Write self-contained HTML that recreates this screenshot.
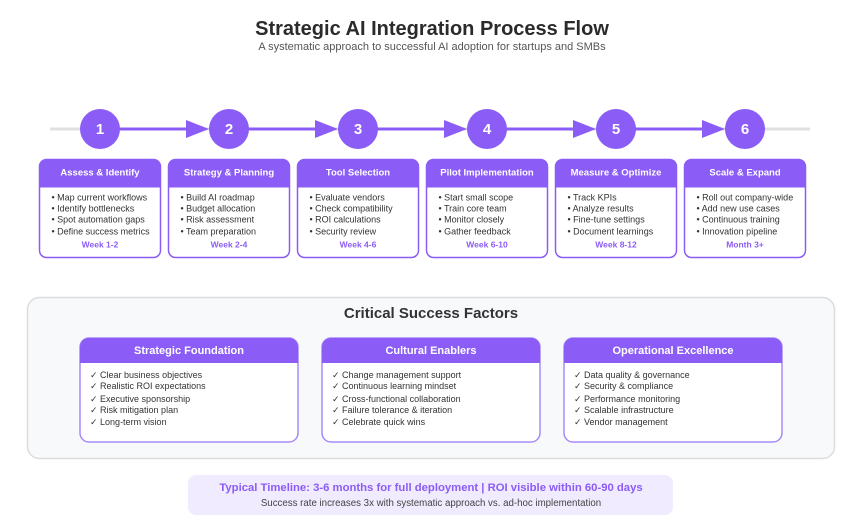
<!DOCTYPE html>
<html><head><meta charset="utf-8"><style>
html,body{margin:0;padding:0;background:#fff;}
svg{display:block;font-family:"Liberation Sans",Arial,sans-serif;}
</style></head><body>
<svg width="866" height="525" viewBox="0 0 866 525" xmlns="http://www.w3.org/2000/svg">
<rect width="866" height="525" fill="#fff"/>
<text x="432" y="35" text-anchor="middle" font-size="20" font-weight="bold" fill="#2b2b2b">Strategic AI Integration Process Flow</text>
<text x="432" y="50" text-anchor="middle" font-size="11" fill="#555">A systematic approach to successful AI adoption for startups and SMBs</text>

<line x1="50" y1="129" x2="810" y2="129" stroke="#e0e0e0" stroke-width="3"/>
<g stroke="#8b5cf6" stroke-width="3">
<line x1="100" y1="129" x2="190" y2="129"/>
<line x1="229" y1="129" x2="319" y2="129"/>
<line x1="358" y1="129" x2="448" y2="129"/>
<line x1="487" y1="129" x2="577" y2="129"/>
<line x1="616" y1="129" x2="706" y2="129"/>
</g>
<g fill="#8b5cf6">
<polygon points="186,120 209,129 186,138"/>
<polygon points="315,120 338,129 315,138"/>
<polygon points="444,120 467,129 444,138"/>
<polygon points="573,120 596,129 573,138"/>
<polygon points="702,120 725,129 702,138"/>
<circle cx="100" cy="129" r="20"/><circle cx="229" cy="129" r="20"/><circle cx="358" cy="129" r="20"/>
<circle cx="487" cy="129" r="20"/><circle cx="616" cy="129" r="20"/><circle cx="745" cy="129" r="20"/>
</g>
<g fill="#fff" font-size="15" font-weight="bold" text-anchor="middle">
<text x="100" y="134">1</text><text x="229" y="134">2</text><text x="358" y="134">3</text>
<text x="487" y="134">4</text><text x="616" y="134">5</text><text x="745" y="134">6</text>
</g>

<defs>
<g id="card">
<rect x="0" y="0" width="121" height="98" rx="7" fill="#fff" stroke="#8b5cf6" stroke-width="1.5"/>
<path d="M0,7 a7,7 0 0 1 7,-7 h107 a7,7 0 0 1 7,7 v21 h-121 z" fill="#8b5cf6"/>
</g>
</defs>

<g font-size="9" fill="#333">
<g transform="translate(39.5,159.5)"><use href="#card"/>
<text x="60.5" y="16" text-anchor="middle" fill="#fff" font-weight="bold" font-size="9.5">Assess &amp; Identify</text>
<text x="12" y="41">• Map current workflows</text><text x="12" y="52">• Identify bottlenecks</text>
<text x="12" y="63">• Spot automation gaps</text><text x="12" y="75">• Define success metrics</text>
<text x="60.5" y="88" text-anchor="middle" fill="#8b5cf6" font-weight="bold" font-size="8.5">Week 1-2</text></g>
<g transform="translate(168.5,159.5)"><use href="#card"/>
<text x="60.5" y="16" text-anchor="middle" fill="#fff" font-weight="bold" font-size="9.5">Strategy &amp; Planning</text>
<text x="12" y="41">• Build AI roadmap</text><text x="12" y="52">• Budget allocation</text>
<text x="12" y="63">• Risk assessment</text><text x="12" y="75">• Team preparation</text>
<text x="60.5" y="88" text-anchor="middle" fill="#8b5cf6" font-weight="bold" font-size="8.5">Week 2-4</text></g>
<g transform="translate(297.5,159.5)"><use href="#card"/>
<text x="60.5" y="16" text-anchor="middle" fill="#fff" font-weight="bold" font-size="9.5">Tool Selection</text>
<text x="12" y="41">• Evaluate vendors</text><text x="12" y="52">• Check compatibility</text>
<text x="12" y="63">• ROI calculations</text><text x="12" y="75">• Security review</text>
<text x="60.5" y="88" text-anchor="middle" fill="#8b5cf6" font-weight="bold" font-size="8.5">Week 4-6</text></g>
<g transform="translate(426.5,159.5)"><use href="#card"/>
<text x="60.5" y="16" text-anchor="middle" fill="#fff" font-weight="bold" font-size="9.5">Pilot Implementation</text>
<text x="12" y="41">• Start small scope</text><text x="12" y="52">• Train core team</text>
<text x="12" y="63">• Monitor closely</text><text x="12" y="75">• Gather feedback</text>
<text x="60.5" y="88" text-anchor="middle" fill="#8b5cf6" font-weight="bold" font-size="8.5">Week 6-10</text></g>
<g transform="translate(555.5,159.5)"><use href="#card"/>
<text x="60.5" y="16" text-anchor="middle" fill="#fff" font-weight="bold" font-size="9.5">Measure &amp; Optimize</text>
<text x="12" y="41">• Track KPIs</text><text x="12" y="52">• Analyze results</text>
<text x="12" y="63">• Fine-tune settings</text><text x="12" y="75">• Document learnings</text>
<text x="60.5" y="88" text-anchor="middle" fill="#8b5cf6" font-weight="bold" font-size="8.5">Week 8-12</text></g>
<g transform="translate(684.5,159.5)"><use href="#card"/>
<text x="60.5" y="16" text-anchor="middle" fill="#fff" font-weight="bold" font-size="9.5">Scale &amp; Expand</text>
<text x="12" y="41">• Roll out company-wide</text><text x="12" y="52">• Add new use cases</text>
<text x="12" y="63">• Continuous training</text><text x="12" y="75">• Innovation pipeline</text>
<text x="60.5" y="88" text-anchor="middle" fill="#8b5cf6" font-weight="bold" font-size="8.5">Month 3+</text></g>
</g>

<rect x="27.5" y="297.5" width="807" height="161" rx="12" fill="#f8f9fa" stroke="#dddddd" stroke-width="1.5"/>
<text x="431" y="318" text-anchor="middle" font-size="15" font-weight="bold" fill="#333">Critical Success Factors</text>

<defs>
<g id="bcard">
<rect x="0" y="0" width="218" height="104" rx="9" fill="#fff" stroke="#a78bfa" stroke-width="1.5"/>
<path d="M0,9 a9,9 0 0 1 9,-9 h200 a9,9 0 0 1 9,9 v16 h-218 z" fill="#8b5cf6"/>
</g>
</defs>
<g font-size="9" fill="#333">
<g transform="translate(80,338)"><use href="#bcard"/>
<text x="109" y="16" text-anchor="middle" fill="#fff" font-weight="bold" font-size="11">Strategic Foundation</text>
<text x="10" y="40">✓ Clear business objectives</text><text x="10" y="51">✓ Realistic ROI expectations</text>
<text x="10" y="64">✓ Executive sponsorship</text><text x="10" y="75">✓ Risk mitigation plan</text>
<text x="10" y="87">✓ Long-term vision</text></g>
<g transform="translate(322,338)"><use href="#bcard"/>
<text x="109" y="16" text-anchor="middle" fill="#fff" font-weight="bold" font-size="11">Cultural Enablers</text>
<text x="10" y="40">✓ Change management support</text><text x="10" y="51">✓ Continuous learning mindset</text>
<text x="10" y="64">✓ Cross-functional collaboration</text><text x="10" y="75">✓ Failure tolerance &amp; iteration</text>
<text x="10" y="87">✓ Celebrate quick wins</text></g>
<g transform="translate(564,338)"><use href="#bcard"/>
<text x="109" y="16" text-anchor="middle" fill="#fff" font-weight="bold" font-size="11">Operational Excellence</text>
<text x="10" y="40">✓ Data quality &amp; governance</text><text x="10" y="51">✓ Security &amp; compliance</text>
<text x="10" y="64">✓ Performance monitoring</text><text x="10" y="75">✓ Scalable infrastructure</text>
<text x="10" y="87">✓ Vendor management</text></g>
</g>

<rect x="188" y="475" width="485" height="40" rx="8" fill="#f0ebfe"/>
<text x="431" y="491" text-anchor="middle" font-size="11.3" font-weight="bold" fill="#8b5cf6">Typical Timeline: 3-6 months for full deployment | ROI visible within 60-90 days</text>
<text x="431" y="506" text-anchor="middle" font-size="9.7" fill="#444">Success rate increases 3x with systematic approach vs. ad-hoc implementation</text>
</svg>
</body></html>
